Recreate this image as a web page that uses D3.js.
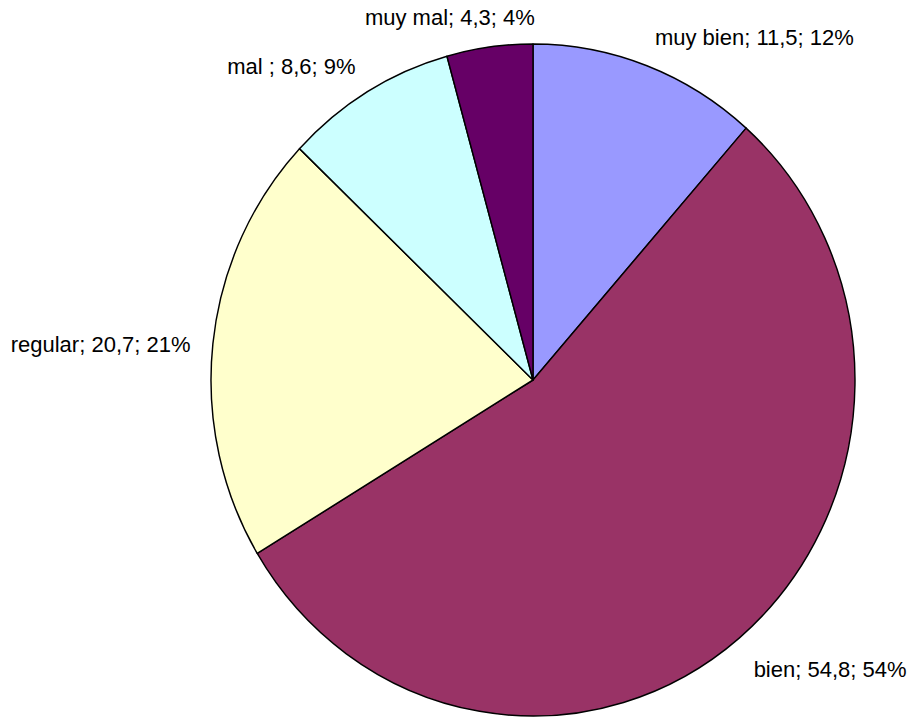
<!DOCTYPE html>
<html>
<head>
<script src="https://d3js.org/d3.v7.min.js"></script>
<style>
  body { margin: 0; background: #fff; }
  text { font-family: Arial, "Liberation Sans", sans-serif; font-size: 22px; fill: #000; }
</style>
</head>
<body>
<script>
// slice data, clockwise from 12 o'clock
var categories = ["muy bien", "bien", "regular", "mal ", "muy mal"];
var values = [11.5, 54.8, 20.7, 8.6, 4.3];
var percents = ["12%", "54%", "21%", "9%", "4%"];
var colors = ["#9999FF", "#993366", "#FFFFCC", "#CCFFFF", "#660066"];

var width = 911, height = 717;
var cx = 533, cy = 380;
var ry = 336, rx = 322;   // chart is slightly squashed horizontally

var svg = d3.select("body").append("svg")
    .attr("width", width)
    .attr("height", height);

var pie = d3.pie().sort(null).value(function(d) { return d; });
var arcs = pie(values);

var arc = d3.arc().innerRadius(0).outerRadius(ry);

var g = svg.append("g")
    .attr("transform", "translate(" + cx + "," + cy + ") scale(" + (rx / ry) + ",1)");

g.selectAll("path")
    .data(arcs)
  .enter().append("path")
    .attr("d", arc)
    .attr("fill", function(d, i) { return colors[i]; })
    .attr("stroke", "#000")
    .attr("stroke-width", 1.5)
    .attr("stroke-linejoin", "round");

function fmt(v) { return String(v).replace(".", ","); }

// labels just outside the rim; the box slides to the side the slice points to
var lr = 1.07;
svg.selectAll(".lbl")
    .data(arcs)
  .enter().append("text")
    .attr("class", "lbl")
    .attr("text-anchor", "middle")
    .text(function(d, i) { return categories[i] + "; " + fmt(values[i]) + "; " + percents[i]; })
    .each(function(d) {
      var a = (d.startAngle + d.endAngle) / 2;
      var s = Math.sin(a), c = Math.cos(a);
      var x = cx + rx * lr * s;
      var y = cy - ry * lr * c;
      var w = this.getComputedTextLength();
      var f = Math.max(-1, Math.min(1, 3.2 * s));
      d3.select(this)
        .attr("x", x + f * w / 2)
        .attr("y", y + 12 - 11 * c);
    });
</script>
</body>
</html>
